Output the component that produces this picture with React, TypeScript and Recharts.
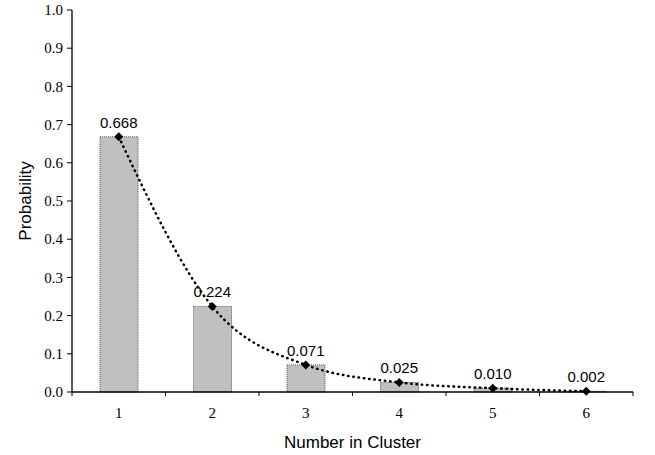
import React from 'react';
import {
  ComposedChart,
  Bar,
  Line,
  XAxis,
  YAxis,
  LabelList,
} from 'recharts';

const clusterSizes = [1, 2, 3, 4, 5, 6];
const probabilities = [0.668, 0.224, 0.071, 0.025, 0.01, 0.002];
const yTicks = [0, 0.1, 0.2, 0.3, 0.4, 0.5, 0.6, 0.7, 0.8, 0.9, 1.0];
const boundaryTicks = [0.5, 1.5, 2.5, 3.5, 4.5, 5.5, 6.5];
const xTicks = [...boundaryTicks, ...clusterSizes].sort((a, b) => a - b);
const xTitle = 'Number in Cluster';
const yTitle = 'Probability';

const data = clusterSizes.map((n, i) => ({ n, p: probabilities[i] }));

const SANS = '"Liberation Sans", Arial, sans-serif';
const SERIF = '"Liberation Serif", "Times New Roman", serif';
const X_TICK_MARGIN = 15;

const DiamondDot = (props: any) => {
  const { cx, cy, index } = props;
  if (cx == null || cy == null) return null;
  const r = 4.5;
  return (
    <path
      key={`d-${index}`}
      d={`M${cx},${cy - r}L${cx + r},${cy}L${cx},${cy + r}L${cx - r},${cy}Z`}
      fill="#000"
    />
  );
};

const SerifTick = (props: any) => {
  const { x, y, payload, textAnchor, tickFormatter, index } = props;
  const label = tickFormatter ? tickFormatter(payload.value, index) : String(payload.value);
  return (
    <text
      x={x}
      y={y}
      dy={props.dy}
      textAnchor={textAnchor}
      fill="#000"
      style={{ fontFamily: SERIF, fontSize: 15 }}
    >
      {label}
    </text>
  );
};

const XTick = (props: any) => {
  const { x, y, payload } = props;
  const v = payload.value;
  if (!Number.isInteger(v)) {
    const axisY = y - X_TICK_MARGIN;
    return <line x1={x} x2={x} y1={axisY} y2={axisY + 4} stroke="#000" strokeWidth={1} />;
  }
  return (
    <text
      x={x}
      y={y}
      dy="0.71em"
      textAnchor="middle"
      fill="#000"
      style={{ fontFamily: SERIF, fontSize: 15 }}
    >
      {String(v)}
    </text>
  );
};

export default function App() {
  return (
    <div style={{ position: 'absolute', left: 0, top: 0, width: 655, height: 455, background: '#fff' }}>
      <ComposedChart
        width={655}
        height={455}
        data={data}
        margin={{ top: 10, right: 22, bottom: 0, left: 0 }}
      >
        <XAxis
          dataKey="n"
          type="number"
          domain={[0.5, 6.5]}
          ticks={xTicks}
          interval={0}
          height={63}
          axisLine={{ stroke: '#000', strokeWidth: 1.3 }}
          tickLine={false}
          tickSize={0}
          tickMargin={X_TICK_MARGIN}
          tick={<XTick />}
          allowDataOverflow
          label={{
            value: xTitle,
            position: 'insideBottom',
            offset: 7,
            fill: '#000',
            style: { fontFamily: SANS, fontSize: 17 },
          }}
        />
        <YAxis
          type="number"
          domain={[0, 1]}
          ticks={yTicks}
          interval={0}
          width={72}
          axisLine={{ stroke: '#000', strokeWidth: 1.3 }}
          tickLine={{ stroke: '#000' }}
          tickSize={5}
          tickMargin={4}
          tickFormatter={(v: number) => v.toFixed(1)}
          tick={<SerifTick dy="0.35em" />}
          label={{
            value: yTitle,
            angle: -90,
            position: 'insideLeft',
            offset: 25,
            fill: '#000',
            style: { textAnchor: 'middle', fontFamily: SANS, fontSize: 17 },
          }}
        />
        <Bar
          dataKey="p"
          fill="#C0C0C0"
          stroke="#555"
          strokeDasharray="1 1"
          strokeWidth={1}
          barSize={38}
          isAnimationActive={false}
        />
        <Line
          dataKey="p"
          type="monotone"
          stroke="#000"
          strokeWidth={2.5}
          strokeDasharray="0.5 4.8"
          strokeLinecap="round"
          dot={DiamondDot}
          activeDot={false}
          isAnimationActive={false}
        >
          <LabelList
            dataKey="p"
            position="top"
            offset={9}
            formatter={(v: any) => Number(v).toFixed(3)}
            fill="#000"
            style={{ fontFamily: SANS, fontSize: 15 }}
          />
        </Line>
      </ComposedChart>
    </div>
  );
}
